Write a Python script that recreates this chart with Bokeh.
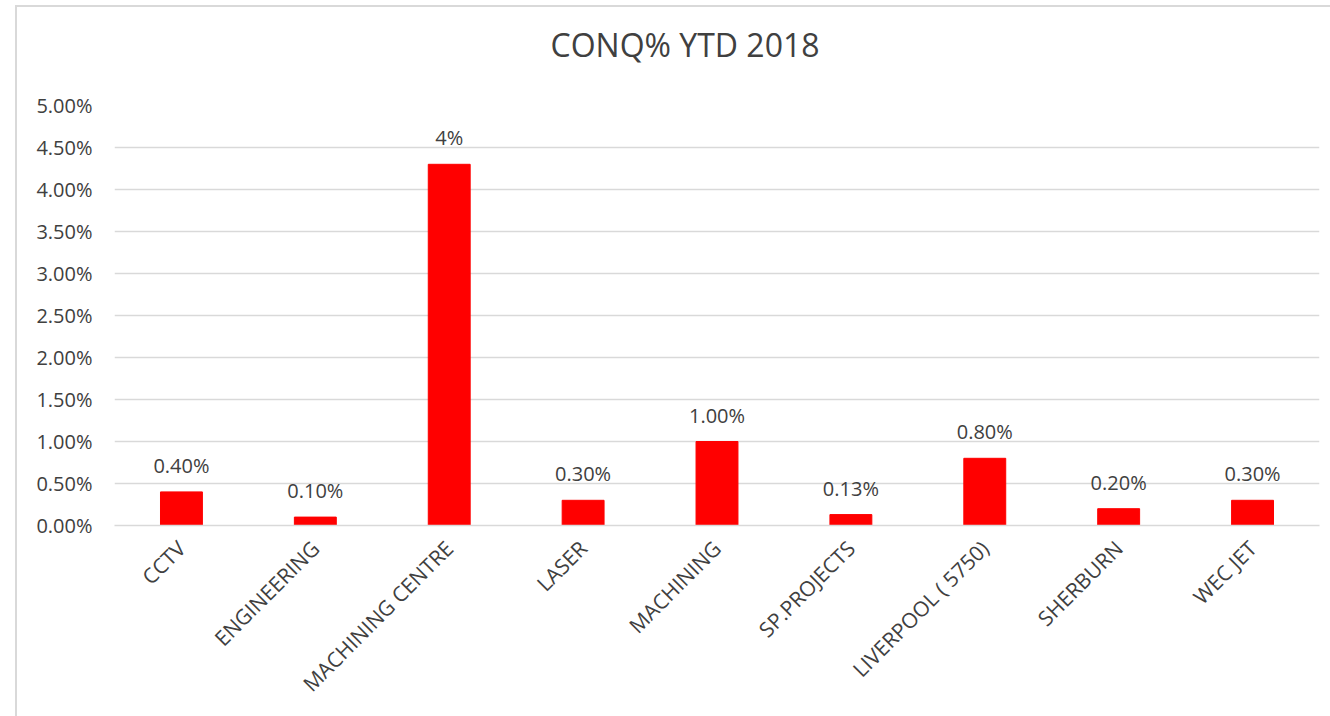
from bokeh.plotting import figure
from bokeh.models import (ColumnDataSource, Range1d, FactorRange, FixedTicker,
                          NumeralTickFormatter, LabelSet, Title)
from bokeh.core.properties import value
from bokeh.embed import file_html
from bokeh.resources import INLINE
from math import pi

# ---- data ----
categories = ["CCTV", "ENGINEERING", "MACHINING CENTRE", "LASER", "MACHINING",
              "SP.PROJECTS", "LIVERPOOL ( 5750)", "SHERBURN", "WEC JET"]
values = [0.004, 0.001, 0.043, 0.003, 0.010, 0.0013, 0.008, 0.002, 0.003]
value_labels = ["0.40%", "0.10%", "4%", "0.30%", "1.00%", "0.13%", "0.80%", "0.20%", "0.30%"]
y_ticks = [0.0, 0.005, 0.01, 0.015, 0.02, 0.025, 0.03, 0.035, 0.04, 0.045, 0.05]
title_text = "CONQ% YTD 2018"

FONT = "Open Sans"
TXT = "#404040"
GRID = "#d9d9d9"

src = ColumnDataSource(dict(cat=categories, val=values, lab=value_labels))

p = figure(width=1313, height=709, output_backend="svg", toolbar_location=None,
           x_range=FactorRange(*categories), y_range=Range1d(0, 0.05),
           min_border_left=97, min_border_right=11, min_border_top=98,
           min_border_bottom=191)
p.margin = (7, 0, 0, 17)
p.styles = {"outline": "2px solid #d9d9d9"}
p.outline_line_color = None
p.background_fill_color = "white"
p.border_fill_color = "white"

p.vbar(x="cat", top="val", width=0.313, source=src, color="#ff0000")

# axes
p.yaxis.ticker = FixedTicker(ticks=y_ticks)
p.yaxis.formatter = NumeralTickFormatter(format="0.00%")
p.yaxis.axis_line_color = None
p.yaxis.major_tick_line_color = None
p.yaxis.minor_tick_line_color = None
p.yaxis.major_tick_out = 0
p.yaxis.major_label_text_font = FONT
p.yaxis.major_label_text_font_size = "20px"
p.yaxis.major_label_text_color = TXT
p.yaxis.major_label_standoff = 22

p.xaxis.axis_line_color = GRID
p.xaxis.axis_line_width = 1.5
p.xaxis.major_tick_line_color = None
p.xaxis.minor_tick_line_color = None
p.xaxis.major_tick_out = 0
p.xaxis.major_label_orientation = pi / 4
p.xaxis.major_label_text_font = FONT
p.xaxis.major_label_text_font_size = "21px"
p.xaxis.major_label_text_color = TXT
p.xaxis.major_label_standoff = 19

p.xgrid.grid_line_color = None
p.ygrid.grid_line_color = GRID
p.ygrid.grid_line_width = 1.5

labels = LabelSet(x="cat", y="val", text="lab", source=src, text_align="center",
                  text_baseline="bottom", y_offset=13, text_font=value(FONT),
                  text_font_size=value("20px"), text_color=value(TXT))
p.add_layout(labels)

title = Title(text=title_text, align="left", offset=436, vertical_align="bottom",
              standoff=0, padding=dict(left=0, right=0, top=0, bottom=40),
              text_font=FONT, text_font_size="32px",
              text_color=TXT, text_font_style="normal")
p.add_layout(title, "above")

open("out.html", "w").write(file_html(p, INLINE))
